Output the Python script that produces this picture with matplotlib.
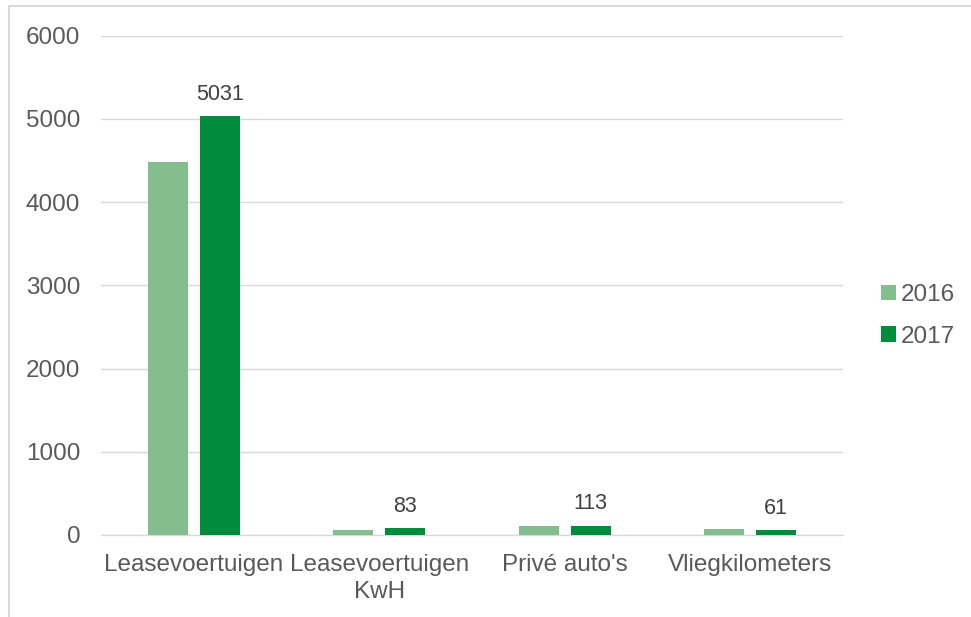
import numpy as np
import matplotlib.pyplot as plt
from matplotlib.patches import Rectangle

plt.rcParams['font.family'] = ['Liberation Sans', 'DejaVu Sans']

categories = ["Leasevoertuigen", "Leasevoertuigen\nKwH", "Privé auto's", "Vliegkilometers"]
years = ["2016", "2017"]
values_2016 = [4485, 61, 105, 75]
values_2017 = [5031, 83, 113, 61]

col_2016 = "#85BE8E"
col_2017 = "#008C3A"
txt = "#595959"

fig = plt.figure(figsize=(9.71, 6.17), dpi=100)
ax = fig.add_axes([0.104, 0.133, 0.764, 0.809])

x = np.arange(len(categories))
w = 0.216
off = 0.14
ax.bar(x - off, values_2016, w, color=col_2016, label=years[0], zorder=3)
b17 = ax.bar(x + off, values_2017, w, color=col_2017, label=years[1], zorder=3)

# only the 2017 bars carry a value label
for rect, v in zip(b17, values_2017):
    ax.annotate(str(v), (rect.get_x() + rect.get_width() / 2, v),
                xytext=(0, 8), textcoords="offset points",
                ha="center", va="bottom", fontsize=15.5, color="#404040")

ax.set_xlim(-0.5, len(categories) - 0.5)
ax.set_ylim(0, 6000)
ax.set_yticks(range(0, 6001, 1000))
ax.set_xticks(x)
ax.set_xticklabels(categories)
ax.tick_params(axis="both", length=0, labelsize=17.5, colors=txt)
ax.tick_params(axis="y", pad=15)
ax.tick_params(axis="x", pad=14)
for lbl in ax.get_xticklabels():
    lbl.set_linespacing(1.25)

ax.grid(axis="y", color="#D9D9D9", linewidth=1, zorder=0)
for s in ["top", "right", "left"]:
    ax.spines[s].set_visible(False)
ax.spines["bottom"].set_color("#D9D9D9")
ax.spines["bottom"].set_linewidth(1)

h, l = ax.get_legend_handles_labels()
fig.legend(h, l, loc="center left", bbox_to_anchor=(881 / 971, 1 - 316 / 617),
           frameon=False, fontsize=17.5, labelcolor=txt,
           handlelength=0.6, handleheight=0.6, handletextpad=0.2,
           labelspacing=0.8, borderpad=0, borderaxespad=0)

# outer chart frame, cut off at right and bottom
fig.add_artist(Rectangle((9 / 971, -0.05), 1.1, 1.05 - 6 / 617,
                         transform=fig.transFigure, fill=False,
                         edgecolor="#D9D9D9", linewidth=1.5))

fig.savefig("out.png", dpi=100)
